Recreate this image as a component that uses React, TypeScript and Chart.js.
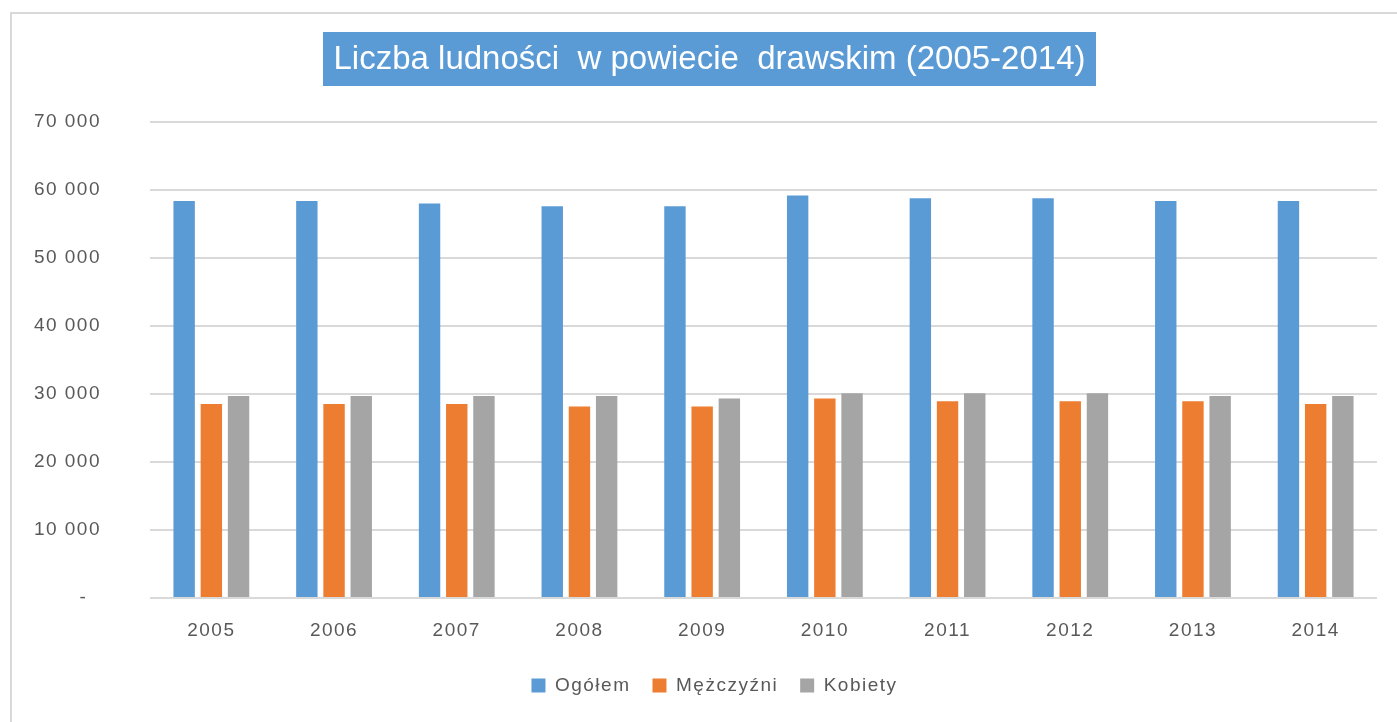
import React, { useEffect, useRef } from "react";
import { Chart, registerables } from "chart.js";

Chart.register(...registerables);

const TITLE = "Liczba ludności  w powiecie  drawskim (2005-2014)";
const years = ["2005", "2006", "2007", "2008", "2009", "2010", "2011", "2012", "2013", "2014"];
const ogolem = [58400, 58400, 58000, 57600, 57600, 59200, 58800, 58800, 58400, 58400];
const mezczyzni = [28540, 28540, 28540, 28150, 28150, 29330, 28930, 28930, 28930, 28540];
const kobiety = [29720, 29720, 29720, 29720, 29330, 30100, 30100, 30100, 29720, 29720];
const seriesNames = ["Ogółem", "Mężczyźni", "Kobiety"];
const seriesColors = ["#5B9BD5", "#ED7D31", "#A5A5A5"];
const yMin = 0;
const yMax = 70000;
const yStep = 10000;

const FONT = "'Liberation Sans', Arial, sans-serif";
const TEXT_COLOR = "#595959";
const GRID_COLOR = "#D9D9D9";

function formatTick(v: number): string {
  if (v === 0) return "-  ";
  return String(v).replace(/\B(?=(\d{3})+(?!\d))/g, " ");
}

const spacingPlugin = {
  id: "letterSpacing",
  beforeUpdate(chart: any) {
    chart.ctx.letterSpacing = "1.5px";
  },
  beforeLayout(chart: any) {
    chart.ctx.letterSpacing = "1.5px";
  },
  afterLayout(chart: any) {
    const lg = chart.legend;
    if (lg) {
      lg.left += 16;
      lg.right += 16;
    }
  },
  beforeDraw(chart: any) {
    chart.ctx.letterSpacing = "1.5px";
  },
};

const titleBoxPlugin = {
  id: "titleBox",
  afterDraw(chart: any) {
    const ctx = chart.ctx;
    ctx.save();
    ctx.letterSpacing = "0px";
    ctx.font = `33px ${FONT}`;
    const w = ctx.measureText(TITLE).width;
    const cx = 709.5;
    const cy = 59;
    const padX = 10.5;
    const h = 54;
    ctx.fillStyle = "#5B9BD5";
    ctx.fillRect(cx - w / 2 - padX, cy - h / 2, w + 2 * padX, h);
    ctx.fillStyle = "#FFFFFF";
    ctx.textAlign = "center";
    ctx.textBaseline = "middle";
    ctx.fillText(TITLE, cx, cy + 1);
    ctx.restore();
  },
};

export default function App() {
  const canvasRef = useRef<HTMLCanvasElement | null>(null);

  useEffect(() => {
    const canvas = canvasRef.current;
    if (!canvas) return;
    Chart.defaults.font.family = FONT;
    Chart.defaults.color = TEXT_COLOR;
    const data = [ogolem, mezczyzni, kobiety];
    const chart = new Chart(canvas, {
      type: "bar",
      data: {
        labels: years,
        datasets: seriesNames.map((name, i) => ({
          label: name,
          data: data[i],
          backgroundColor: seriesColors[i],
          borderWidth: 0,
          categoryPercentage: 0.665,
          barPercentage: 0.787,
        })),
      },
      options: {
        responsive: false,
        animation: false,
        devicePixelRatio: 1,
        layout: { padding: { top: 122, left: 20, right: 20, bottom: 17 } },
        plugins: {
          title: { display: false },
          tooltip: { enabled: false },
          legend: {
            position: "bottom",
            labels: {
              boxWidth: 14,
              boxHeight: 14,
              padding: 22,
              color: TEXT_COLOR,
              font: { size: 19, family: FONT },
            },
          },
        },
        scales: {
          x: {
            grid: { display: false, drawTicks: false },
            border: { display: false },
            ticks: {
              padding: 21,
              color: TEXT_COLOR,
              font: { size: 19, family: FONT },
              maxRotation: 0,
            },
            afterFit(scale: any) {
              scale.height -= 8.8;
            },
          },
          y: {
            min: yMin,
            max: yMax,
            grid: { color: GRID_COLOR, lineWidth: 2, drawTicks: false },
            border: { display: false },
            ticks: {
              stepSize: yStep,
              padding: 49,
              color: TEXT_COLOR,
              font: { size: 19, family: FONT },
              callback: (v: any) => formatTick(Number(v)),
            },
            afterFit(scale: any) {
              scale.width = 130;
            },
          },
        },
      },
      plugins: [spacingPlugin, titleBoxPlugin],
    });
    return () => chart.destroy();
  }, []);

  return (
    <div
      style={{
        position: "fixed",
        left: 0,
        top: 0,
        width: 1397,
        height: 722,
        background: "#FFFFFF",
        overflow: "hidden",
      }}
    >
      <div
        style={{
          position: "absolute",
          left: 10,
          top: 12,
          width: 1420,
          height: 740,
          boxSizing: "border-box",
          borderLeft: "2px solid #D9D9D9",
          borderTop: "2px solid #D9D9D9",
        }}
      />
      <canvas
        ref={canvasRef}
        width={1397}
        height={722}
        style={{ position: "absolute", left: 0, top: 0, display: "block" }}
      />
    </div>
  );
}
